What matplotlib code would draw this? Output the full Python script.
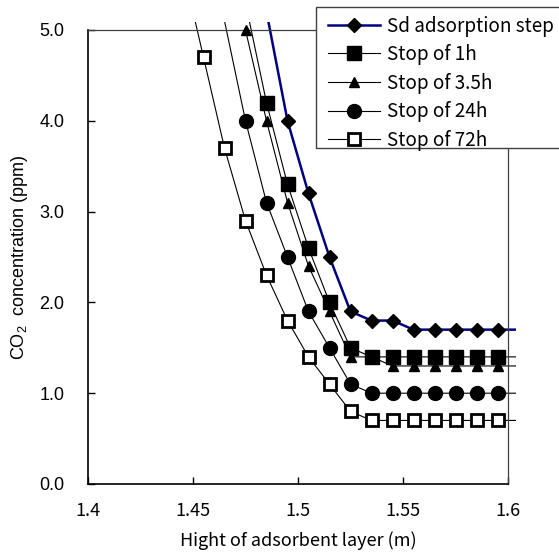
import matplotlib
matplotlib.use("Agg")
import matplotlib.pyplot as plt
from matplotlib.transforms import Bbox, TransformedBbox
from matplotlib.patches import Rectangle
import numpy as np

# ---- data ----
sd_x = [1.485, 1.495, 1.505, 1.515, 1.525, 1.535, 1.545, 1.555, 1.565, 1.575, 1.585, 1.595, 1.605]
sd_y = [5.2, 4.0, 3.2, 2.5, 1.9, 1.8, 1.8, 1.7, 1.7, 1.7, 1.7, 1.7, 1.7]

h1_x = [1.475, 1.485, 1.495, 1.505, 1.515, 1.525, 1.535, 1.545, 1.555, 1.565, 1.575, 1.585, 1.595, 1.605]
h1_y = [5.3, 4.2, 3.3, 2.6, 2.0, 1.5, 1.4, 1.4, 1.4, 1.4, 1.4, 1.4, 1.4, 1.4]

h35_x = [1.475, 1.485, 1.495, 1.505, 1.515, 1.525, 1.535, 1.545, 1.555, 1.565, 1.575, 1.585, 1.595, 1.605]
h35_y = [5.0, 4.0, 3.1, 2.4, 1.9, 1.4, 1.4, 1.3, 1.3, 1.3, 1.3, 1.3, 1.3, 1.3]

h24_x = [1.465, 1.475, 1.485, 1.495, 1.505, 1.515, 1.525, 1.535, 1.545, 1.555, 1.565, 1.575, 1.585, 1.595, 1.605]
h24_y = [5.1, 4.0, 3.1, 2.5, 1.9, 1.5, 1.1, 1.0, 1.0, 1.0, 1.0, 1.0, 1.0, 1.0, 1.0]

h72_x = [1.445, 1.455, 1.465, 1.475, 1.485, 1.495, 1.505, 1.515, 1.525, 1.535, 1.545, 1.555, 1.565, 1.575, 1.585, 1.595, 1.605]
h72_y = [5.7, 4.7, 3.7, 2.9, 2.3, 1.8, 1.4, 1.1, 0.8, 0.7, 0.7, 0.7, 0.7, 0.7, 0.7, 0.7, 0.7]

labels = ["Sd adsorption step", "Stop of 1h", "Stop of 3.5h", "Stop of 24h", "Stop of 72h"]
x_ticks = [1.4, 1.45, 1.5, 1.55, 1.6]
x_ticklabels = ["1.4", "1.45", "1.5", "1.55", "1.6"]
y_ticks = [0.0, 1.0, 2.0, 3.0, 4.0, 5.0]
y_ticklabels = ["0.0", "1.0", "2.0", "3.0", "4.0", "5.0"]

plt.rcParams['mathtext.fontset'] = 'custom'
plt.rcParams['mathtext.rm'] = 'Liberation Sans'
plt.rcParams['mathtext.it'] = 'Liberation Sans'

JP = ['Noto Sans CJK JP', 'DejaVu Sans']
AR = ['Liberation Sans', 'DejaVu Sans']

fig = plt.figure(figsize=(5.59, 5.56), dpi=100)
W, H = 559, 556
L, R, T, B = 88, 508, 30, 484
ax = fig.add_axes([L / W, 1 - B / H, (R - L) / W, (B - T) / H])
ax.set_xlim(1.4, 1.6)
ax.set_ylim(0, 5.0)

clipbox = TransformedBbox(Bbox([[0, 0], [1 + 8 / (R - L), 1 + 8 / (B - T)]]), ax.transAxes)

series = [
    (sd_x, sd_y, dict(color='#000080', lw=1.8, marker='D', ms=7.5, mfc='black', mec='black', mew=1)),
    (h1_x, h1_y, dict(color='black', lw=0.8, marker='s', ms=9.5, mfc='black', mec='black', mew=1)),
    (h35_x, h35_y, dict(color='black', lw=0.8, marker='^', ms=6.5, mfc='black', mec='black', mew=1)),
    (h24_x, h24_y, dict(color='black', lw=0.8, marker='o', ms=10, mfc='black', mec='black', mew=1)),
    (h72_x, h72_y, dict(color='black', lw=0.8, marker='s', ms=8.5, mfc='white', mec='black', mew=2)),
]

handles = []
for (xs, ys, st), lab in zip(series, labels):
    xs = np.array(xs); ys = np.array(ys)
    ln, = ax.plot(xs, ys, color=st['color'], lw=st['lw'], zorder=2)
    ln.set_clip_box(clipbox)
    m = (xs <= 1.6 + 1e-9) & (ys <= 5.0 + 1e-9)
    ax.plot(xs[m], ys[m], ls='none', marker=st['marker'], ms=st['ms'], mfc=st['mfc'],
            mec=st['mec'], mew=st['mew'], clip_on=False, zorder=3)
    h, = ax.plot([], [], color=st['color'], lw=st['lw'], marker=st['marker'], ms=st['ms'],
                 mfc=st['mfc'], mec=st['mec'], mew=st['mew'])
    handles.append(h)

ax.set_xticks(x_ticks)
ax.set_xticklabels(x_ticklabels, fontfamily=JP, fontsize=13)
ax.set_yticks(y_ticks)
ax.set_yticklabels(y_ticklabels, fontfamily=AR, fontsize=13)
ax.tick_params(axis='both', direction='in', length=5, width=1, color='black')
ax.tick_params(axis='x', pad=13)
ax.tick_params(axis='y', pad=17)

for s in ['left', 'bottom']:
    ax.spines[s].set_color('black')
    ax.spines[s].set_linewidth(1.2)
for s in ['top', 'right']:
    ax.spines[s].set_color('#404040')
    ax.spines[s].set_linewidth(0.9)

ax.set_xlabel('Hight of adsorbent layer (m)', fontfamily=JP, fontsize=13)
ax.xaxis.set_label_coords(0.5, -(531 - B) / (B - T), transform=ax.transAxes)
ax.set_ylabel('CO$_2$  concentration (ppm)', fontfamily=AR, fontsize=13)
ax.yaxis.set_label_coords(-(L - 30) / (R - L), 0.5, transform=ax.transAxes)

# legend frame (extends past the right edge of the figure, as in the reference)
frame = Rectangle((316 / W, 1 - 148 / H), (600 - 316) / W, (148 - 7) / H,
                  transform=fig.transFigure, facecolor='white', edgecolor='#404040',
                  lw=1.0, zorder=9, clip_on=False)
fig.add_artist(frame)

leg = fig.legend(handles, labels, loc='upper left', bbox_to_anchor=(320 / W, 1 - 8 / H),
                 bbox_transform=fig.transFigure, frameon=False, borderaxespad=0,
                 prop={'family': JP, 'size': 13.6}, handlelength=2.8, handletextpad=0.35,
                 labelspacing=0.4, borderpad=0.4)
leg.set_zorder(10)

fig.savefig('out.png', dpi=100)
